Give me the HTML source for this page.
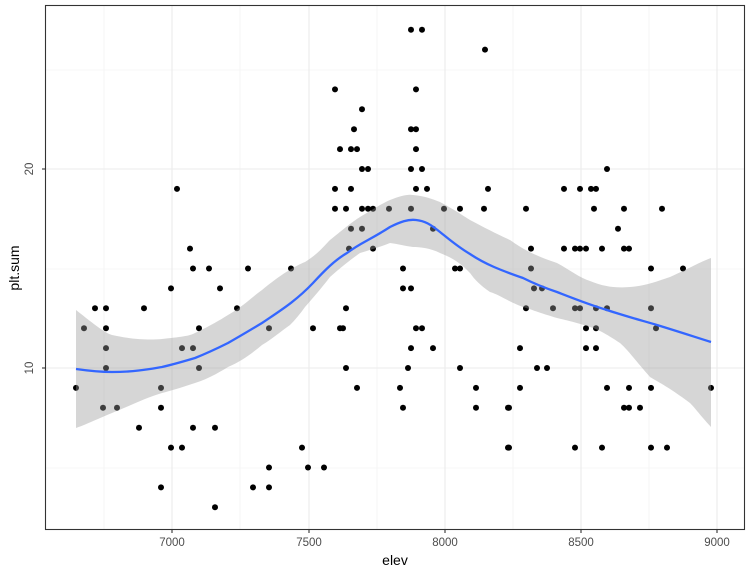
<!DOCTYPE html>
<html><head><meta charset="utf-8"><style>body{margin:0;background:#fff}svg{display:block}text{font-family:"Liberation Sans",sans-serif}</style></head><body>
<svg id="s" width="750" height="575" xmlns="http://www.w3.org/2000/svg">
<rect x="0" y="0" width="750" height="575" fill="#fff"/>
<g stroke="#f0f0f0" stroke-width="0.6">
<line x1="45" x2="745" y1="468" y2="468"/><line x1="45" x2="745" y1="269" y2="269"/><line x1="45" x2="745" y1="70" y2="70"/>
<line y1="5" y2="530" x1="104" x2="104"/><line y1="5" y2="530" x1="240" x2="240"/><line y1="5" y2="530" x1="377" x2="377"/><line y1="5" y2="530" x1="513" x2="513"/><line y1="5" y2="530" x1="649" x2="649"/>
</g>
<g stroke="#ebebeb" stroke-width="1.1">
<line x1="45" x2="745" y1="368" y2="368"/><line x1="45" x2="745" y1="169" y2="169"/>
<line y1="5" y2="530" x1="172" x2="172"/><line y1="5" y2="530" x1="309" x2="309"/><line y1="5" y2="530" x1="445" x2="445"/><line y1="5" y2="530" x1="581" x2="581"/><line y1="5" y2="530" x1="717" x2="717"/>
</g>
<g id="pts" fill="#000"></g>
<path fill="#999" fill-opacity="0.4" d="M76,310 C95,325 105,333 112,335 C135,340 150,340 162,339 C180,337 190,336 195,333 C210,326 220,320 228,315 C245,305 252,297 262,290 C280,275 295,266 305,262 C318,254 325,245 330,240 C345,228 352,222 360,217 C375,208 383,203 390,200 C400,196 408,194 413,195 C425,196 432,199 440,202 C455,210 462,215 470,220 C485,228 495,233 510,240 C520,247 530,254 557,263 C570,270 580,278 590,281 C605,287 615,288 630,287 C645,286 655,282 670,277 C690,268 700,262 711,258 L711,427 C700,415 695,408 690,403 C670,388 660,383 650,377 C635,360 628,350 620,343 C605,333 597,329 590,327 C575,322 565,320 557,318 C540,313 530,309 523,307 C505,300 500,295 490,292 C480,285 475,280 470,273 C460,262 450,257 440,253 C430,248 420,247 413,247 C405,246 398,244 390,243 C380,247 370,250 360,253 C350,260 340,268 330,277 C320,290 312,299 305,307 C300,314 295,320 290,325 C280,332 272,339 262,345 C250,355 240,362 228,367 C215,375 205,380 195,383 C180,388 170,391 162,393 C145,398 125,408 112,413 C95,420 85,425 76,428 Z"/>
<path fill="none" stroke="#3366ff" stroke-width="2.3" d="M76,369 C90,371 100,372 112,372 C135,372 150,369 162,367 C175,364 185,361 195,358 C210,352 218,348 228,343 C242,335 252,329 262,323 C278,312 295,302 313,283 C325,270 335,260 347,253 C360,243 370,240 390,227 C400,222 408,219 416,220 C425,221 430,224 440,232 C450,240 458,247 470,254 C485,264 500,270 523,278 C535,284 545,288 557,292 C575,299 590,305 607,310 C625,316 640,320 657,325 C680,332 695,337 711,342"/>
<rect x="45.5" y="5.5" width="699" height="524" fill="none" stroke="#333" stroke-width="1.1"/>
<g stroke="#333" stroke-width="1.1">
<line x1="42" x2="45" y1="368" y2="368"/><line x1="42" x2="45" y1="169" y2="169"/>
<line y1="530" y2="533" x1="172" x2="172"/><line y1="530" y2="533" x1="309" x2="309"/><line y1="530" y2="533" x1="445" x2="445"/><line y1="530" y2="533" x1="581" x2="581"/><line y1="530" y2="533" x1="717" x2="717"/>
</g>
<g fill="#4d4d4d" font-size="11.5" text-anchor="middle">
<text x="172" y="546">7000</text><text x="309" y="546">7500</text><text x="445" y="546">8000</text><text x="581" y="546">8500</text><text x="717" y="546">9000</text>
<text x="0" y="0" transform="translate(33,368) rotate(-90)" dy="0">10</text>
<text x="0" y="0" transform="translate(33,169) rotate(-90)">20</text>
</g>
<text x="395" y="565" font-size="14" text-anchor="middle" fill="#000">elev</text>
<text transform="translate(19,268) rotate(-90)" font-size="14" text-anchor="middle" fill="#000">plt.sum</text>
</svg>
<script>
var P=[[76,9],[84,12],[95,13],[106,13],[106,12],[106,11],[106,10],[103,8],[117,8],[144,13],[139,7],[161,9],[161,8],[161,4],[171,14],[177,19],[171,6],[182,6],[182,11],[193,11],[199,12],[199,10],[193,7],[215,7],[190,16],[193,15],[209,15],[248,15],[291,15],[220,14],[237,13],[269,12],[215,3],[253,4],[269,4],[269,5],[302,6],
[411,27],[422,27],[485,26],[335,24],[416,24],[362,23],[354,22],[411,22],[416,22],[340,21],[351,21],[357,21],[416,21],[362,20],[368,20],[411,20],[422,20],[335,19],[351,19],[416,19],[427,19],[488,19],[335,18],[346,18],[362,18],[368,18],[373,18],[389,18],[411,18],[444,18],[460,18],[484,18],[351,17],[362,17],[433,17],[349,16],[373,16],[403,15],[455,15],[460,15],[403,14],[411,14],[346,13],[313,12],[340,12],[343,12],[416,12],[422,12],[411,11],[433,11],[346,10],[408,10],[460,10],[357,9],[400,9],[476,9],[403,8],[476,8],[508,8],[508,6],[308,5],[324,5],
[607,20],[564,19],[580,19],[591,19],[596,19],[526,18],[594,18],[624,18],[662,18],[618,17],[531,16],[564,16],[575,16],[580,16],[586,16],[602,16],[624,16],[629,16],[531,15],[651,15],[683,15],[534,14],[542,14],[526,13],[553,13],[575,13],[580,13],[596,13],[607,13],[651,13],[586,12],[596,12],[656,12],[520,11],[586,11],[596,11],[537,10],[547,10],[520,9],[607,9],[629,9],[651,9],[711,9],[509,8],[624,8],[629,8],[640,8],[509,6],[575,6],[602,6],[651,6],[667,6]];
var g=document.getElementById('pts'),h='';
P.forEach(function(p){h+='<circle cx="'+p[0]+'" cy="'+(368-(p[1]-10)*19.9).toFixed(1)+'" r="3"/>';});
g.innerHTML=h;
</script>
</body></html>
